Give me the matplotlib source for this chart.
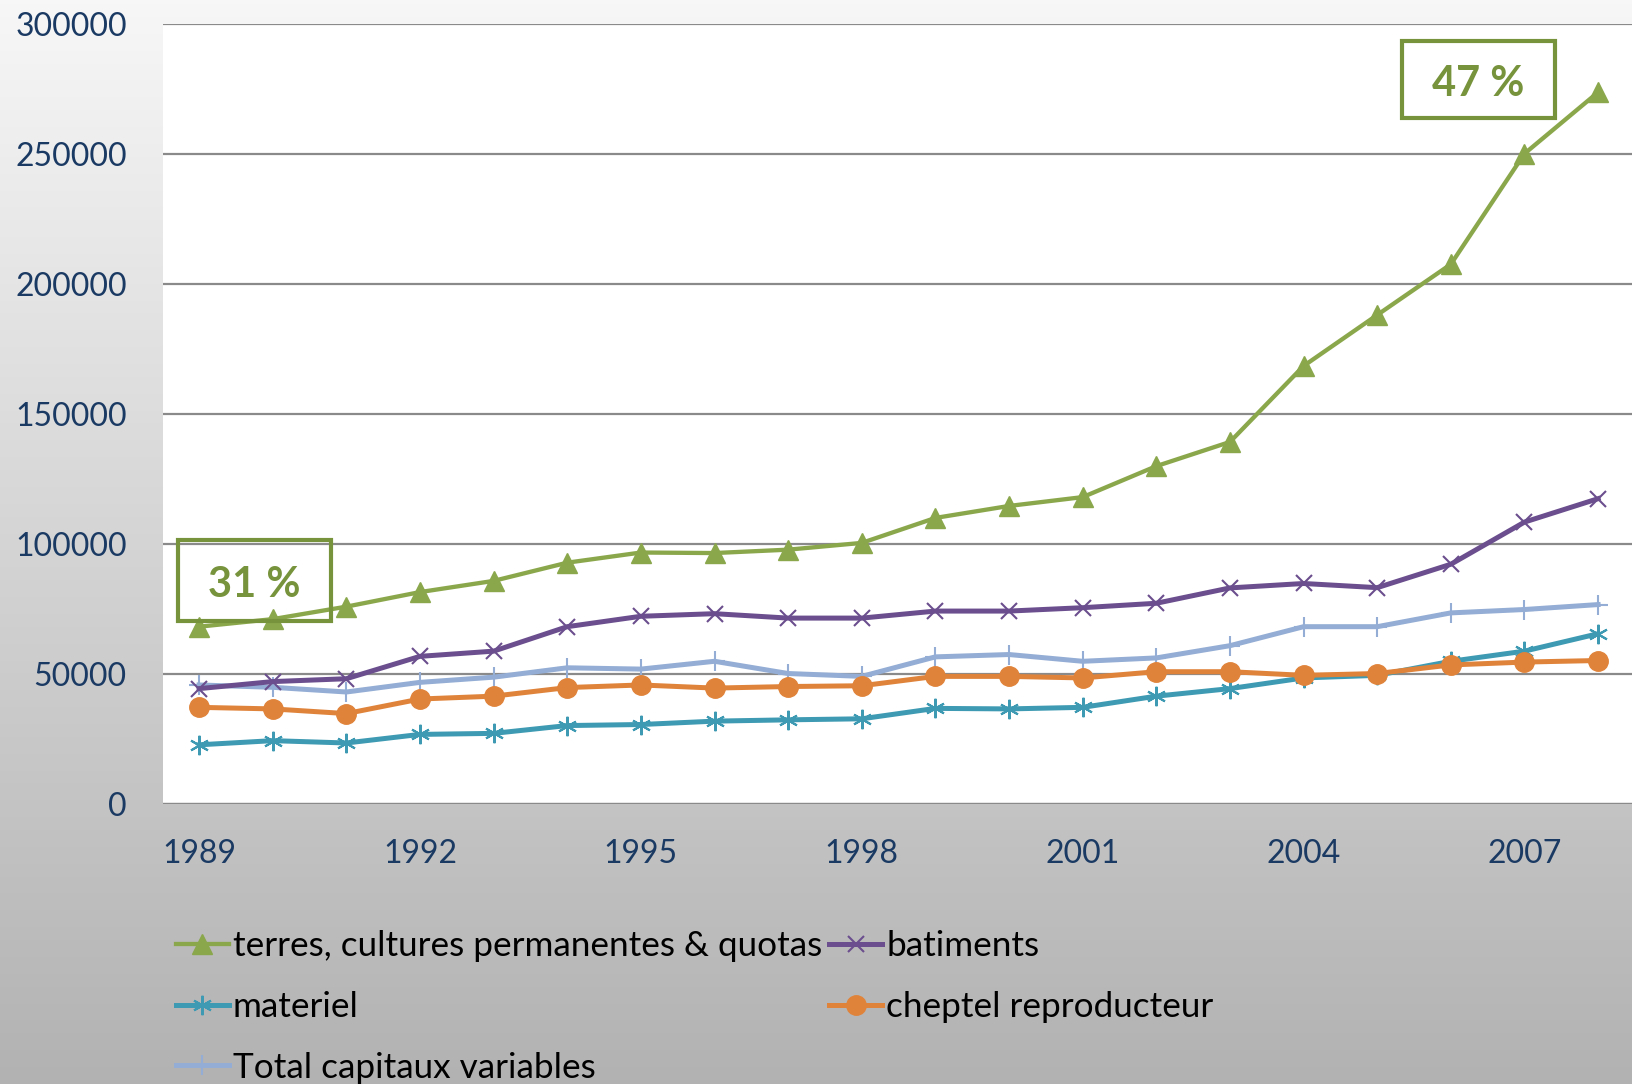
import matplotlib.pyplot as plt
import numpy as np
from matplotlib.colors import LinearSegmentedColormap
from matplotlib.patches import Rectangle

plt.rcParams['font.family'] = ['Lato', 'DejaVu Sans']

years = list(range(1989, 2009))

terres = [68300, 71200, 76000, 81600, 85900, 92900, 96800, 96600, 97900, 100500,
          110100, 114700, 118100, 130000, 139300, 168500, 188100, 207600, 250100, 273700]
batiments = [44500, 47200, 48300, 56900, 58900, 68300, 72300, 73300, 71600, 71600,
             74300, 74300, 75600, 77300, 83200, 84900, 83300, 92300, 108500, 117500]
materiel = [22900, 24500, 23600, 26900, 27300, 30300, 30700, 32000, 32500, 32900,
            36900, 36700, 37300, 41600, 44500, 48600, 49600, 55000, 58900, 65600]
cheptel = [37300, 36700, 34900, 40500, 41600, 44900, 45900, 44700, 45300, 45600,
           49200, 49200, 48600, 51000, 51000, 49600, 50300, 53600, 54700, 55300]
total_var = [45900, 45000, 43200, 46900, 48900, 52500, 52000, 55000, 50300, 49200,
             56700, 57600, 55000, 56300, 61000, 68300, 68300, 73600, 74900, 76800]

x_labels = [1989, 1992, 1995, 1998, 2001, 2004, 2007]
y_ticks = [0, 50000, 100000, 150000, 200000, 250000, 300000]

fig = plt.figure(figsize=(16.32, 10.84), dpi=100)

# fond degrade
bg = fig.add_axes([0, 0, 1, 1], zorder=-10)
grad = np.linspace(0, 1, 256).reshape(-1, 1)
cmap = LinearSegmentedColormap.from_list('bg', ['#f7f7f7', '#b2b2b2'])
bg.imshow(grad, aspect='auto', cmap=cmap, extent=[0, 1, 0, 1], origin='upper')
bg.axis('off')

ax = fig.add_axes([163 / 1632, 1 - 804.4 / 1084, 1 - 163 / 1632, 780.6 / 1084])
ax.set_facecolor('white')

l_terres, = ax.plot(years, terres, color='#8BA74C', lw=3.1, marker='^', ms=14,
                    label='terres, cultures permanentes & quotas')
l_bat, = ax.plot(years, batiments, color='#6A4E8E', lw=3.6, marker='x', ms=12, mew=1.5,
                 label='batiments')
l_mat, = ax.plot(years, materiel, color='#3D9AB2', lw=3.6, marker=(6, 2, 0), ms=14, mew=1.5,
                 label='materiel')
l_chep, = ax.plot(years, cheptel, color='#E0833A', lw=3.6, marker='o', ms=14,
                  label='cheptel reproducteur')
l_tot, = ax.plot(years, total_var, color='#93ADD4', lw=3.6, marker='+', ms=15, mew=1.5,
                 label='Total capitaux variables')
for ln, z in zip([l_terres, l_bat, l_mat, l_chep, l_tot], [6, 5, 3, 4, 2]):
    ln.set_zorder(z)

ax.set_xlim(1988.51, 2008.46)
ax.set_ylim(0, 300000)
ax.set_yticks(y_ticks)
ax.set_yticklabels([str(v) for v in y_ticks])
ax.set_xticks(x_labels)
ax.set_xticklabels([str(v) for v in x_labels])
ax.tick_params(length=0, labelsize=23, labelcolor='#1B3A63')
ax.tick_params(axis='y', pad=26)
ax.tick_params(axis='x', pad=25)
ax.yaxis.grid(True, color='#8a8a8a', lw=1.6)
ax.set_axisbelow(True)
for s in ax.spines.values():
    s.set_visible(False)
ax.axhline(0, color='#8a8a8a', lw=1.6, zorder=1)

# encadres
for (x0, y0, x1, y1, txt) in [(0.0102, 0.235, 0.1144, 0.3387, '31 %'),
                              (0.8434, 0.8793, 0.9476, 0.978, '47 %')]:
    ax.add_patch(Rectangle((x0, y0), x1 - x0, y1 - y0, transform=ax.transAxes,
                           fill=False, edgecolor='#77933C', lw=3, zorder=7))
    ax.text((x0 + x1) / 2, (y0 + y1) / 2 - 0.006, txt, transform=ax.transAxes,
            ha='center', va='center', fontsize=30, fontweight='bold',
            color='#77933C', zorder=8)

handles = [l_terres, l_mat, l_tot, l_bat, l_chep]
leg = fig.legend(handles=handles, labels=[h.get_label() for h in handles],
                 ncol=2, loc='upper left', bbox_to_anchor=(176 / 1632, 1 - 930 / 1084),
                 frameon=False, fontsize=25.3, handlelength=1.5, handletextpad=0.12,
                 columnspacing=0.2, labelspacing=0.82, borderaxespad=0, borderpad=0)

fig.savefig('out.png', dpi=100)
